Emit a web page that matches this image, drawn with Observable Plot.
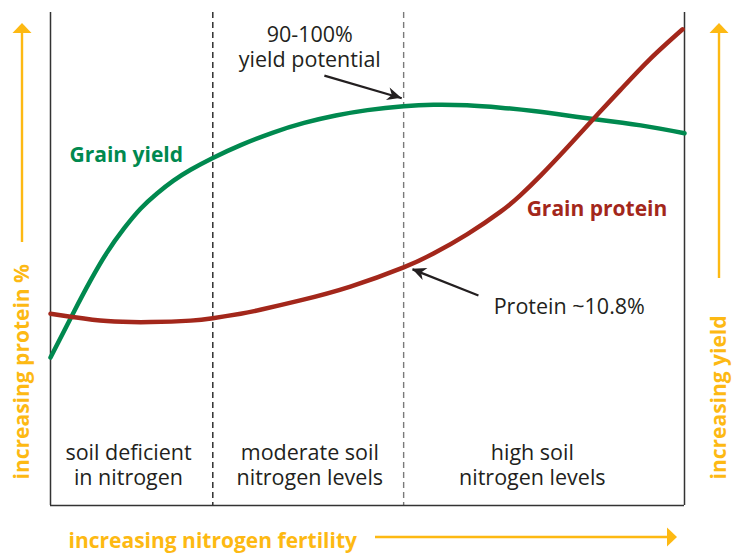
<!DOCTYPE html>
<html><head><meta charset="utf-8">
<script src="https://cdn.jsdelivr.net/npm/d3@7"></script>
<script src="https://cdn.jsdelivr.net/npm/@observablehq/plot@0.6"></script>
<style>html,body{margin:0;padding:0;background:#fff;}</style>
</head><body><div id="chart"></div>
<script>
// ---- data (x = nitrogen fertility 0-100, y = relative level 0-100) ----
const yieldX = [0, 3.7, 6.3, 8.9, 11.6, 14.2, 16.8, 19.4, 22.1, 25.6, 30.0, 35.0, 40.0, 45.0, 50.0, 55.7, 60.4, 65.7, 71.0, 76.2, 81.5, 85.6, 93.1, 100];
const yieldY = [30.0, 39.3, 45.6, 51.3, 56.2, 60.2, 63.3, 65.9, 68.1, 70.5, 73.1, 75.6, 77.6, 79.1, 80.2, 81.0, 81.3, 81.2, 80.7, 80.0, 79.1, 78.4, 77.1, 75.5];
const proteinX = [0, 3.7, 8.9, 15.8, 22.1, 25.6, 30.0, 33.1, 39.4, 47.3, 55.7, 60.4, 65.7, 71.0, 74.1, 77.3, 81.5, 85.7, 89.9, 94.6, 99.7];
const proteinY = [38.9, 38.2, 37.4, 37.2, 37.5, 38.0, 38.9, 39.7, 41.6, 44.4, 48.3, 51.1, 55.0, 59.6, 62.9, 66.9, 72.6, 78.5, 84.3, 90.6, 96.6];

const zoneBounds = [25.6, 55.7];
const zoneStroke = ["#222222", "#7a7a7a"];
const zoneLabels = ["soil deficient\nin nitrogen", "moderate soil\nnitrogen levels", "high soil\nnitrogen levels"];
const zoneLabelX = [12.3, 40.9, 76.0];
const zoneLabelY = [8.3, 8.3, 8.3];

const seriesLabels = ["Grain yield", "Grain protein"];
const seriesLabelX = [3.0, 75.1];
const seriesLabelY = [71.0, 60.0];

const yieldNote = "90-100%\nyield potential";
const yieldNoteX = 40.9, yieldNoteY = 93.1;
const proteinNote = "Protein ~10.8%";
const proteinNoteX = 69.9, proteinNoteY = 40.2;
const noteArrowX1 = [43.2, 67.5];
const noteArrowY1 = [87.2, 42.6];
const noteArrowX2 = [55.4, 57.1];
const noteArrowY2 = [82.6, 47.9];

const axisLabels = ["increasing protein %", "increasing yield", "increasing nitrogen fertility"];

// ---- build tables ----
const yieldData = yieldX.map((x, i) => ({x, y: yieldY[i]}));
const proteinData = proteinX.map((x, i) => ({x, y: proteinY[i]}));
const zones = zoneLabels.map((t, i) => ({t, x: zoneLabelX[i], y: zoneLabelY[i]}));
const series = seriesLabels.map((t, i) => ({t, x: seriesLabelX[i], y: seriesLabelY[i]}));
const noteArrows = noteArrowX1.map((x1, i) => ({x1, y1: noteArrowY1[i], x2: noteArrowX2[i], y2: noteArrowY2[i]}));

const GREEN = "#00894f", RED = "#a3271b", YELLOW = "#fdb913", INK = "#231f20";
const FONT = "'Open Sans', sans-serif";

const plot = Plot.plot({
  width: 736, height: 554,
  marginLeft: 50, marginRight: 52, marginTop: 12, marginBottom: 49,
  x: {domain: [0, 100], axis: null},
  y: {domain: [0, 100], axis: null},
  style: {fontFamily: FONT, background: "#fff", overflow: "visible"},
  marks: [
    Plot.ruleX(zoneBounds, {stroke: zoneStroke, strokeDasharray: "6,4", strokeWidth: 1.4}),
    Plot.ruleX([0, 100], {stroke: "#333", strokeWidth: 1.5}),
    Plot.ruleY([0], {stroke: "#333", strokeWidth: 1.5}),
    Plot.line(yieldData, {x: "x", y: "y", stroke: GREEN, strokeWidth: 4.5, curve: "natural"}),
    Plot.line(proteinData, {x: "x", y: "y", stroke: RED, strokeWidth: 4.5, curve: "natural"}),
    Plot.text(zones, {x: "x", y: "y", text: "t", fontSize: 21.5, fill: INK, lineHeight: 1.15, textAnchor: "middle"}),
    Plot.text(series, {x: "x", y: "y", text: "t", fontSize: 21, fontWeight: "bold", fill: [GREEN, RED], textAnchor: "start"}),
    Plot.text([yieldNote], {x: [yieldNoteX], y: [yieldNoteY], text: d => d, fontSize: 21.5, fill: INK, lineHeight: 1.15, textAnchor: "middle"}),
    Plot.text([proteinNote], {x: [proteinNoteX], y: [proteinNoteY], text: d => d, fontSize: 21.5, fill: INK, textAnchor: "start"}),
    Plot.link(noteArrows, {x1: "x1", y1: "y1", x2: "x2", y2: "y2", stroke: INK, strokeWidth: 2.2}),
    Plot.text([axisLabels[0]], {text: d => d, frameAnchor: "bottom-left", dx: -28, dy: -26, rotate: -90, textAnchor: "start", lineAnchor: "middle", fontSize: 21, fontWeight: "bold", fill: YELLOW}),
    Plot.text([axisLabels[1]], {text: d => d, frameAnchor: "bottom-right", dx: 35, dy: -26, rotate: -90, textAnchor: "start", lineAnchor: "middle", fontSize: 21, fontWeight: "bold", fill: YELLOW}),
    Plot.text([axisLabels[2]], {text: d => d, frameAnchor: "bottom-left", dx: 18, dy: 36, textAnchor: "start", lineAnchor: "middle", fontSize: 21, fontWeight: "bold", fill: YELLOW})
  ]
});

document.getElementById("chart").appendChild(plot);
const svg = d3.select(plot);
const sx = plot.scale("x"), sy = plot.scale("y");

function head(g, x1, y1, x2, y2, L, w, color) {
  const dx = x2 - x1, dy = y2 - y1, len = Math.hypot(dx, dy);
  const ux = dx / len, uy = dy / len;
  const bx = x2 - ux * L, by = y2 - uy * L;
  const nx = -uy, ny = ux;
  g.append("path")
    .attr("d", `M${x2},${y2}L${bx + nx * w},${by + ny * w}L${x2 - ux * L * 0.7},${y2 - uy * L * 0.7}L${bx - nx * w},${by - ny * w}Z`)
    .attr("fill", color);
}
const deco = svg.append("g");
noteArrows.forEach(a => {
  head(deco, sx.apply(a.x1), sy.apply(a.y1), sx.apply(a.x2), sy.apply(a.y2), 14, 6.5, INK);
});

// yellow axis arrows (decoration, relative to the frame)
const fLeft = sx.apply(0), fRight = sx.apply(100), fBottom = sy.apply(0), fTop = sy.apply(100);
function yArrow(x, y0, y1) {
  deco.append("line").attr("x1", x).attr("x2", x).attr("y1", y0).attr("y2", y1 + 8).attr("stroke", YELLOW).attr("stroke-width", 2.4);
  deco.append("path").attr("d", `M${x},${y1}L${x - 9.5},${y1 + 10}L${x + 9.5},${y1 + 10}Z`).attr("fill", YELLOW);
}
yArrow(fLeft - 28, fBottom - 263, fTop + 11);
yArrow(fRight + 35, fBottom - 227, fTop + 11);
deco.append("line").attr("x1", fLeft + 325).attr("x2", fRight - 15).attr("y1", fBottom + 32).attr("y2", fBottom + 32).attr("stroke", YELLOW).attr("stroke-width", 2.4);
deco.append("path").attr("d", `M${fRight - 7},${fBottom + 32}L${fRight - 17},${fBottom + 22.5}L${fRight - 17},${fBottom + 41.5}Z`).attr("fill", YELLOW);
</script>
</body></html>
